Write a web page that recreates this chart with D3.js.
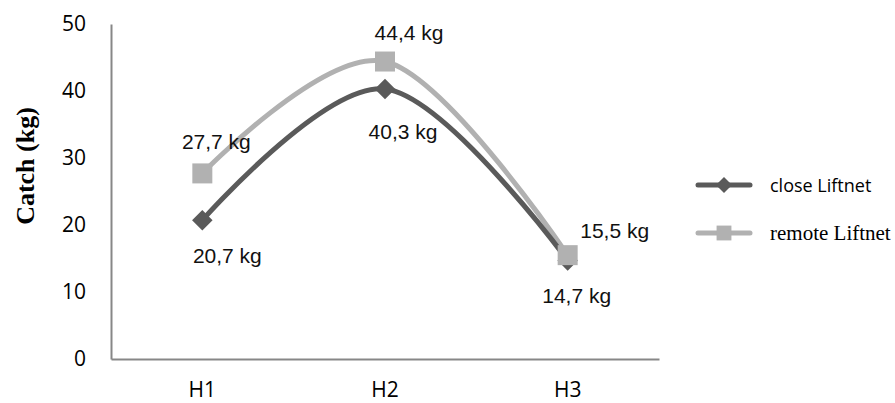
<!DOCTYPE html>
<html>
<head>
<meta charset="utf-8">
<script src="https://cdn.jsdelivr.net/npm/d3@7"></script>
<style>
  body { margin: 0; background: #fff; }
  svg { display: block; }
</style>
</head>
<body>
<svg id="chart" width="895" height="403"></svg>
<script>
const hauls = ["H1", "H2", "H3"];
const closeLiftnet = [20.7, 40.3, 14.7];
const remoteLiftnet = [27.7, 44.4, 15.5];
const yTicks = [0, 10, 20, 30, 40, 50];

// label offsets (px) relative to each marker, as placed in the original
const closeLabelOffset = [[25, 35], [18, 43], [9, 35]];
const remoteLabelOffset = [[14, -32], [24, -29], [47, -25]];

const svg = d3.select("#chart");
const margin = { left: 111, top: 24, right: 236, bottom: 44 };
const width = 895, height = 403;

const xScale = d3.scaleBand()
                 .domain(hauls)
                 .range([margin.left, width - margin.right]);

const yScale = d3.scaleLinear()
                 .domain([0, 50])
                 .range([height - margin.bottom, margin.top]);

const axisColor = "#878787";

const yAxis = d3.axisLeft(yScale)
                .tickValues(yTicks)
                .tickSize(0)
                .tickPadding(25);

const xAxis = d3.axisBottom(xScale)
                .tickSize(0)
                .tickPadding(23);

const gy = svg.append("g")
   .attr("transform", `translate(${margin.left}, 0)`)
   .call(yAxis)
   .attr("font-family", "'Open Sans', sans-serif")
   .attr("font-size", 21);
gy.select(".domain").attr("stroke", axisColor).attr("stroke-width", 2);
gy.selectAll("text").attr("fill", "#000");

const gx = svg.append("g")
   .attr("transform", `translate(0, ${height - margin.bottom})`)
   .call(xAxis)
   .attr("font-family", "'Open Sans', sans-serif")
   .attr("font-size", 21);
gx.select(".domain").attr("stroke", axisColor).attr("stroke-width", 2);
gx.selectAll("text").attr("fill", "#000");

svg.append("text")
   .attr("transform", "translate(25, 166) rotate(-90)")
   .attr("text-anchor", "middle")
   .attr("dominant-baseline", "central")
   .attr("font-family", "'Liberation Serif', 'Times New Roman', serif")
   .attr("font-weight", "bold")
   .attr("font-size", 26)
   .text("Catch (kg)");

const series = [
  { name: "close Liftnet", values: closeLiftnet, color: "#5a5a5a", rotate: 45, size: 210, legendMarker: 130,
    offsets: closeLabelOffset, legendFont: "'Open Sans', sans-serif", legendSize: 18 },
  { name: "remote Liftnet", values: remoteLiftnet, color: "#b1b1b1", rotate: 0, size: 400, legendMarker: 220,
    offsets: remoteLabelOffset, legendFont: "'Liberation Serif', 'Times New Roman', serif", legendSize: 21 }
];

const cx = i => xScale(hauls[i]) + xScale.bandwidth() / 2;

const line = d3.line()
               .x((d, i) => cx(i))
               .y(d => yScale(d))
               .curve(d3.curveCardinal.tension(0));

const fmt = v => d3.format(".1f")(v).replace(".", ",") + " kg";

series.slice().reverse().forEach(s => {
  svg.append("path")
     .attr("d", line(s.values))
     .attr("fill", "none")
     .attr("stroke", s.color)
     .attr("stroke-width", 5);
});

series.forEach(s => {
  svg.selectAll(null)
     .data(s.values)
     .enter()
     .append("path")
       .attr("transform", (d, i) => `translate(${cx(i)}, ${yScale(d)}) rotate(${s.rotate})`)
       .attr("d", d3.symbol().type(d3.symbolSquare).size(s.size))
       .attr("fill", s.color);

  svg.selectAll(null)
     .data(s.values)
     .enter()
     .append("text")
       .attr("x", (d, i) => cx(i) + s.offsets[i][0])
       .attr("y", (d, i) => yScale(d) + s.offsets[i][1])
       .attr("text-anchor", "middle")
       .attr("dominant-baseline", "central")
       .attr("font-family", "'Liberation Sans', Arial, sans-serif")
       .attr("font-size", 21)
       .attr("fill", "#111")
       .text(d => fmt(d));
});

// legend
const legend = svg.append("g").attr("transform", "translate(698, 0)");
const legendY = [185, 233];
series.forEach((s, i) => {
  const g = legend.append("g").attr("transform", `translate(0, ${legendY[i]})`);
  g.append("line")
   .attr("x1", 0).attr("x2", 52)
   .attr("stroke", s.color)
   .attr("stroke-width", 5)
   .attr("stroke-linecap", "round");
  g.append("path")
   .attr("transform", `translate(26, 0) rotate(${s.rotate})`)
   .attr("d", d3.symbol().type(d3.symbolSquare).size(s.legendMarker))
   .attr("fill", s.color);
  g.append("text")
   .attr("x", 72)
   .attr("dominant-baseline", "central")
   .attr("font-family", s.legendFont)
   .attr("font-size", s.legendSize)
   .attr("fill", "#000")
   .text(s.name);
});
</script>
</body>
</html>
